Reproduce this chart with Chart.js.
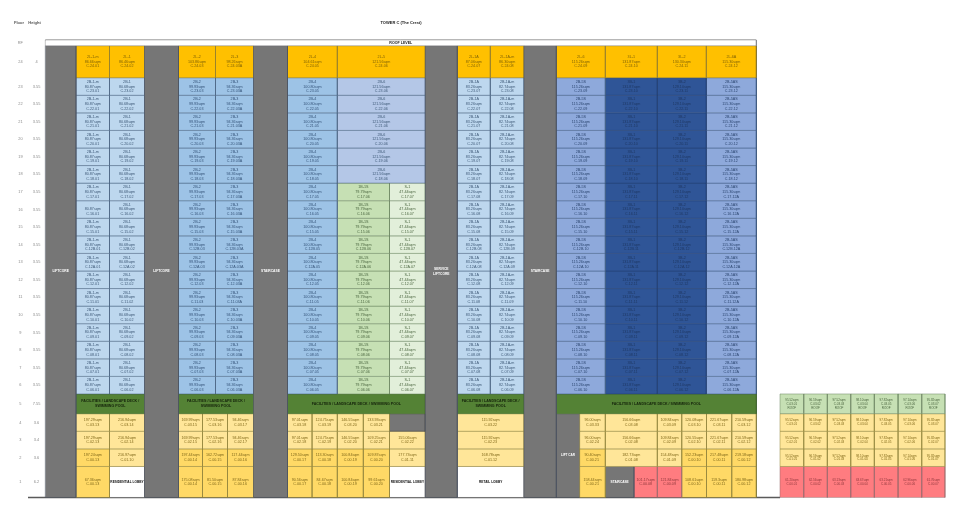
<!DOCTYPE html>
<html>
<head>
<meta charset="utf-8">
<style>
  html, body { margin: 0; padding: 0; background: #fff; }
  canvas { display: block; }
</style>
<script src="https://cdn.jsdelivr.net/npm/chart.js@4"></script>
</head>
<body>
<canvas id="myChart" width="968" height="510"></canvas>
<script>
// floor axis
const floors = ['RF', 24, 23, 22, 21, 20, 19, 18, 17, 16, 15, 14, 13, 12, 11, 10, 9, 8, 7, 6, 5, 4, 3, 2, 1];
const heights = ['', '4', '3.55', '3.55', '3.55', '3.55', '3.55', '3.55', '3.55', '3.55', '3.55', '3.55', '3.55', '3.55', '3.55', '3.55', '3.55', '3.55', '3.55', '3.55', '7.55', '3.6', '3.4', '3.6', '6.2'];

// tower floors (23 to 6), code part per floor
const towerFloors = [23, 22, 21, 20, 19, 18, 17, 16, 15, 14, 13, 12, 11, 10, 9, 8, 7, 6];
const towerCodes = ['23', '22', '21', '20', '19', '18', '17', '16', '15', '12B', '12A', '12', '11', '10', '09', '08', '07', '06'];

// penthouse floor 24
const roofNames = ['2L-1-m', '2L-1', '2L-2', '2L-3', '2L-4', '2L-5', '2L-1A', '2L-1A-m', '2L-6', '3L-1', '3L-2', '2L-6A'];
const roofAreas = ['86.66sqm', '86.46sqm', '103.86sqm', '98.26sqm', '104.61sqm', '121.56sqm', '87.06sqm', '86.30sqm', '115.26sqm', '131.87sqm', '130.30sqm', '115.30sqm'];
const roofCodes = ['C.24.01', 'C.24.02', 'C.24.03', 'C.24.03A', 'C.24.05', 'C.24.06', 'C.24.07', 'C.24.08', 'C.24.09', 'C.24.10', 'C.24.11', 'C.24.12'];

// typical units, upper stack (floors 23 to 18)
const unitNames = ['2B-1-m', '2B-1', '2B-2', '2B-3', '2B-4', '2B-6', '2B-1A', '2B-1A-m', '2B-5S', '3B-1', '3B-2', '2B-5AS'];
const unitAreas = ['80.87sqm', '80.68sqm', '99.93sqm', '94.36sqm', '100.80sqm', '121.56sqm', '83.26sqm', '82.74sqm', '115.26sqm', '131.87sqm', '129.10sqm', '115.30sqm'];
const upperSuffix = ['01', '02', '03', '03A', '05', '06', '07', '08', '09', '10', '11', '12'];
const lowerSuffix = ['01', '02', '03', '03A', '05', '06', '08', '09', '10', '11', '12', '12A'];

// the split unit that replaces 2B-6 from floor 17 down
const splitNames = ['1B-1S', 'S-1'];
const splitAreas = ['79.79sqm', '47.44sqm'];
const splitSuffix = ['06', '07'];

// podium floors
const floor4Areas = ['197.29sqm', '216.94sqm', '169.99sqm', '177.53sqm', '94.46sqm', '97.01sqm', '124.75sqm', '146.55sqm', '133.93sqm', '', '115.92sqm', '96.00sqm', '156.66sqm', '109.84sqm', '120.08sqm', '221.67sqm', '210.59sqm'];
const floor4Codes = ['C.03.13', 'C.03.14', 'C.03.15', 'C.03.16', 'C.03.17', 'C.03.18', 'C.03.19', 'C.03.20', 'C.03.21', '', 'C.03.22', 'C.03.33', 'C.03.08', 'C.03.09', 'C.03.10', 'C.03.11', 'C.03.12'];
const floor3Areas = ['197.29sqm', '216.94sqm', '169.99sqm', '177.53sqm', '94.46sqm', '97.01sqm', '124.75sqm', '146.55sqm', '109.25sqm', '155.06sqm', '115.92sqm', '96.00sqm', '156.66sqm', '109.84sqm', '120.55sqm', '221.67sqm', '210.59sqm'];
const floor3Codes = ['C.02.13', 'C.02.14', 'C.02.15', 'C.02.16', 'C.02.17', 'C.02.18', 'C.02.19', 'C.02.20', 'C.02.21', 'C.02.22', 'C.02.23', 'C.02.24', 'C.02.08', 'C.02.09', 'C.02.10', 'C.02.11', 'C.02.12'];
const floor2Areas = ['197.24sqm', '216.97sqm', '197.44sqm', '162.72sqm', '117.44sqm', '129.50sqm', '113.30sqm', '100.84sqm', '109.87sqm', '177.73sqm', '168.78sqm', '90.40sqm', '182.73sqm', '154.48sqm', '152.23sqm', '217.48sqm', '219.18sqm'];
const floor2Codes = ['C.00.13', 'C.01.10', 'C.00.14', 'C.00.15', 'C.00.16', 'C.00.17', 'C.00.18', 'C.00.19', 'C.00.20', 'C.01.11', 'C.01.12', 'C.00.21', 'C.01.08', 'C.01.09', 'C.00.10', 'C.00.11', 'C.00.12'];
const floor1Labels = ['67.36sqm', 'RESIDENTIAL LOBBY', '175.08sqm', '81.50sqm', '87.84sqm', '90.56sqm', '84.67sqm', '100.84sqm', '99.61sqm', 'RESIDENTIAL LOBBY', 'RETAIL LOBBY', '158.44sqm', 'STAIRCASE', '101.17sqm', '121.84sqm', '108.61sqm', '119.3sqm', '180.98sqm'];
const floor1Codes = ['C.00.13', '', 'C.00.14', 'C.00.15', 'C.00.16', 'C.00.17', 'C.00.18', 'C.00.19', 'C.00.20', '', '', 'C.00.21', '', 'C.00.08', 'C.00.09', 'C.00.10', 'C.00.11', 'C.00.12'];

// detached block on the right
const sideAreas = ['95.52sqm', '96.59sqm', '97.52sqm', '98.10sqm', '97.82sqm', '97.14sqm', '95.82sqm'];
const sideLowAreas = ['61.20sqm', '62.56sqm', '63.13sqm', '63.67sqm', '63.21sqm', '62.96sqm', '61.76sqm'];
const sideSuffix = ['01', '02', '03', '04', '05', '06', '07'];
const sideFloorCodes = { 5: '03', 4: '03', 3: '02', 2: '01', 1: '00' };

const facilityLong = 'FACILITIES / LANDSCAPE DECK / SWIMMING POOL';
const facilityLines = ['FACILITIES / LANDSCAPE DECK /', 'SWIMMING POOL'];

// ---- layout (scale units, both axes) ----
const rowSizes = [5.7, 32, 17.57, 17.57, 17.57, 17.57, 17.57, 17.57, 17.57, 17.57, 17.57, 17.57, 17.57, 17.57, 17.57, 17.57, 17.57, 17.57, 17.57, 17.57, 19.7, 17.6, 17.6, 17.6, 31];
const yStart = 40;
const rowEdges = [yStart];
rowSizes.forEach(s => rowEdges.push(rowEdges[rowEdges.length - 1] + s));
const yEnd = rowEdges[rowEdges.length - 1];
const rowCenters = rowSizes.map((s, i) => rowEdges[i] + s / 2);
const xStart = 45.3, xEnd = 945, tableEnd = 756.3;

const unitCols = [[76, 109.5], [109.5, 144.5], [178.5, 215.5], [215.5, 253.5], [287.5, 337.3], [337.3, 425.3], [457.3, 490.3], [490.3, 524], [556.3, 605.3], [605.3, 657.3], [657.3, 706.3], [706.3, 756.3]];
const splitCols = [[337.3, 389.5], [389.5, 425.3]];
const coreCols = [[45.3, 76], [144.5, 178.5], [253.5, 287.5], [425.3, 457.3], [524, 556.3]];
const coreLabels = [['LIFTCORE'], ['LIFTCORE'], ['STAIRCASE'], ['SERVICE', 'LIFTCORE'], ['STAIRCASE']];
const facilityCols = [[76, 144.5], [178.5, 253.5], [287.5, 425.3], [457.3, 524], [556.3, 756.3]];
const podiumCols = [[76, 109.5], [109.5, 144.5], [178.5, 202.5], [202.5, 227.5], [227.5, 253.5], [287.5, 312], [312, 337.3], [337.3, 363.3], [363.3, 389.5], [389.5, 425.3], [457.3, 524], [579.7, 605.3], [605.3, 657.3], [657.3, 681.7], [681.7, 706.5], [706.5, 731.7], [731.7, 756.3]];
const floor1Cols = [[76, 109.5], [109.5, 144.5], [178.5, 202.5], [202.5, 227.5], [227.5, 253.5], [287.5, 312], [312, 337.3], [337.3, 363.3], [363.3, 389.5], [389.5, 425.3], [457.3, 524], [579.7, 605.3], [605.3, 634], [634, 657.3], [657.3, 681.7], [681.7, 706.5], [706.5, 731.7], [731.7, 756.3]];
const sideEdges = [780, 803.7, 827.3, 850.7, 874.3, 898, 921.7, 945];

const tones = {
  band: { fill: '#ffffff', line: '#8a8a8a', text: '#222222', bold: true },
  core: { fill: '#767676', line: '#4a5360', text: '#ffffff', bold: true },
  roof: { fill: '#FFC000', line: '#8f7a2c', text: '#7f6206' },
  blue1: { fill: '#BDD7EE', line: '#46617f', text: '#3f5a78' },
  blue2: { fill: '#9DC3E6', line: '#46617f', text: '#36557a' },
  lav: { fill: '#B4C7E7', line: '#46617f', text: '#3f5a78' },
  blue3: { fill: '#8EA9DB', line: '#3f5a80', text: '#2c4670' },
  navy: { fill: '#2F5597', line: '#223f70', text: '#1f3864' },
  green: { fill: '#C6E0B4', line: '#6a8560', text: '#4c6741' },
  mint: { fill: '#E2EFDA', line: '#6a8560', text: '#4c6741' },
  fac: { fill: '#548235', line: '#466c2c', text: '#15240b', bold: true },
  pale: { fill: '#FFE699', line: '#8f8038', text: '#80691a' },
  strong: { fill: '#FFD966', line: '#8f8038', text: '#80691a' },
  red: { fill: '#FF7C80', line: '#96686a', text: '#8f383c' },
  white: { fill: '#ffffff', line: '#666666', text: '#111111', bold: true },
  cross: { fill: '#767676', line: '#3a3a3a', text: '#ffffff' },
};
const unitTones = ['blue1', 'blue1', 'blue2', 'blue2', 'blue2', 'lav', 'blue1', 'blue1', 'blue3', 'navy', 'navy', 'blue3'];
const floor4Tones = ['pale', 'pale', 'pale', 'pale', 'pale', 'pale', 'pale', 'pale', 'pale', 'cross', 'pale', 'pale', 'pale', 'pale', 'pale', 'pale', 'pale'];
const floor3Tones = floor4Tones.map(() => 'pale');
const floor2Tones = ['strong', 'pale', 'strong', 'strong', 'strong', 'strong', 'strong', 'strong', 'strong', 'pale', 'pale', 'strong', 'pale', 'pale', 'strong', 'strong', 'strong'];
const floor1Tones = ['strong', 'white', 'strong', 'strong', 'strong', 'strong', 'strong', 'strong', 'strong', 'white', 'white', 'strong', 'core', 'red', 'red', 'strong', 'strong', 'strong'];

const datasets = [];

function addCell(x0, x1, y0, y1, toneName, lines, size) {
  const t = tones[toneName];
  datasets.push({
    data: [{ x: x0, y: y0 }, { x: x1, y: y0 }, { x: x1, y: y1 }, { x: x0, y: y1 }, { x: x0, y: y0 }],
    showLine: true,
    fill: 'shape',
    backgroundColor: t.fill,
    borderColor: t.line,
    borderWidth: 0.5,
    borderJoinStyle: 'miter',
    pointRadius: 0,
    clip: false,
    cellText: lines,
    textColor: t.text,
    textBold: !!t.bold,
    textSize: size || 3.7,
  });
}

function addRule(points, color, width) {
  datasets.push({ data: points, showLine: true, fill: false, borderColor: color, borderWidth: width, pointRadius: 0, clip: false });
}

function rowOf(floor) {
  return floors.indexOf(floor);
}

function addFloorCell(col, floor, toneName, lines, size) {
  const r = rowOf(floor);
  addCell(col[0], col[1], rowEdges[r], rowEdges[r + 1], toneName, lines, size);
}

// roof band and grey cores
addCell(xStart, tableEnd, rowEdges[0], rowEdges[1], 'band', ['ROOF LEVEL'], 3.6);
coreCols.forEach((c, i) => addCell(c[0], c[1], rowEdges[1], yEnd, 'core', coreLabels[i], 3.3));

// floor 24
unitCols.forEach((c, i) => addFloorCell(c, 24, 'roof', [roofNames[i], roofAreas[i], roofCodes[i]]));

// floors 23 to 6
towerFloors.forEach((floor, f) => {
  const code = towerCodes[f];
  const isLower = floor <= 17;
  const suffix = isLower ? lowerSuffix : upperSuffix;
  unitCols.forEach((c, i) => {
    if (isLower && i === 5) return;
    // the name is missing on this one cell in the reference
    const name = (floor === 16 && i === 0) ? '' : unitNames[i];
    addFloorCell(c, floor, unitTones[i], [name, unitAreas[i], 'C.' + code + '.' + suffix[i]]);
  });
  if (isLower) {
    addFloorCell(splitCols[0], floor, 'green', [splitNames[0], splitAreas[0], 'C.' + code + '.' + splitSuffix[0]]);
    addFloorCell(splitCols[1], floor, 'mint', [splitNames[1], splitAreas[1], 'C.' + code + '.' + splitSuffix[1]]);
  }
});

// darker seam between floors 15 and 14
addRule([{ x: 76, y: rowEdges[rowOf(14)] }, { x: tableEnd, y: rowEdges[rowOf(14)] }], 'rgba(70,80,100,0.3)', 1.2);

// floor 5 facilities
facilityCols.forEach((c, i) => {
  const wide = i === 2 || i === 4;
  addFloorCell(c, 5, 'fac', wide ? [facilityLong] : facilityLines, 3.6);
});

// podium floors 4 to 1
podiumCols.forEach((c, i) => addFloorCell(c, 4, floor4Tones[i], floor4Areas[i] ? [floor4Areas[i], floor4Codes[i]] : []));
podiumCols.forEach((c, i) => addFloorCell(c, 3, floor3Tones[i], [floor3Areas[i], floor3Codes[i]]));
podiumCols.forEach((c, i) => addFloorCell(c, 2, floor2Tones[i], [floor2Areas[i], floor2Codes[i]]));
floor1Cols.forEach((c, i) => {
  const tagged = floor1Codes[i] !== '';
  addFloorCell(c, 1, floor1Tones[i], tagged ? [floor1Labels[i], floor1Codes[i]] : [floor1Labels[i]], tagged ? 3.7 : 3.2);
});

// crossed out void on floor 4
const xc = podiumCols[9];
addRule([{ x: xc[0], y: rowEdges[rowOf(4)] }, { x: xc[1], y: rowEdges[rowOf(4) + 1] }], '#3a3a3a', 0.6);
addRule([{ x: xc[0], y: rowEdges[rowOf(4) + 1] }, { x: xc[1], y: rowEdges[rowOf(4)] }], '#3a3a3a', 0.6);

// lift car
addCell(556.3, 579.7, rowEdges[rowOf(4)], yEnd, 'core', ['LIFT CAR'], 3.1);

// side block
[5, 4, 3, 2, 1].forEach(floor => {
  sideAreas.forEach((area, i) => {
    const col = [sideEdges[i], sideEdges[i + 1]];
    const code = 'C.' + sideFloorCodes[floor] + '.' + sideSuffix[i];
    if (floor === 5) addFloorCell(col, floor, 'green', [area, code, 'ROOF'], 3);
    else if (floor === 1) addFloorCell(col, floor, 'red', [sideLowAreas[i], code], 3);
    else addFloorCell(col, floor, 'pale', [area, code], 3);
  });
});

// ground line, table frame
addRule([{ x: 28, y: yEnd }, { x: 780, y: yEnd }], '#5a5a5a', 1.4);
addRule([{ x: xStart, y: yStart }, { x: tableEnd, y: yStart }], '#8a8a8a', 1);
addRule([{ x: tableEnd, y: yStart }, { x: tableEnd, y: yEnd }], '#2a3c5c', 0.8);
coreCols.slice(1).forEach(c => {
  addRule([{ x: c[0], y: rowEdges[1] }, { x: c[0], y: yEnd }], '#2a3c5c', 0.7);
  addRule([{ x: c[1], y: rowEdges[1] }, { x: c[1], y: yEnd }], '#2a3c5c', 0.7);
});

const fontFamily = '"Liberation Sans", sans-serif';

const cellText = {
  id: 'cellText',
  afterDatasetsDraw(chart) {
    const { ctx, scales: { x, y } } = chart;
    ctx.save();
    ctx.textAlign = 'center';
    ctx.textBaseline = 'middle';
    chart.data.datasets.forEach(ds => {
      if (!ds.cellText || !ds.cellText.length) return;
      const cx = x.getPixelForValue((ds.data[0].x + ds.data[1].x) / 2);
      const cy = y.getPixelForValue((ds.data[0].y + ds.data[2].y) / 2);
      const gap = ds.textSize <= 3 ? 3.9 : 4.7;
      ctx.fillStyle = ds.textColor;
      ctx.font = (ds.textBold ? 'bold ' : '') + ds.textSize + 'px ' + fontFamily;
      ds.cellText.forEach((line, i) => {
        ctx.fillText(line, cx, cy + (i - (ds.cellText.length - 1) / 2) * gap);
      });
    });
    // page headings
    ctx.font = 'bold 4px ' + fontFamily;
    ctx.fillStyle = '#222222';
    ctx.fillText('TOWER C (The Crest)', x.getPixelForValue(401), 22.5);
    ctx.fillStyle = '#555555';
    ctx.fillText('Floor', 19, 22.5);
    ctx.fillText('Height', 34.5, 22.5);
    ctx.restore();
  },
};

function sideAxis(labels, boxWidth, pad, weight) {
  return {
    type: 'linear',
    position: 'left',
    reverse: true,
    min: yStart,
    max: yEnd,
    weight: weight,
    grid: { display: false, drawTicks: false },
    border: { display: false },
    ticks: {
      autoSkip: false,
      padding: pad,
      crossAlign: 'center',
      color: '#8a8a8a',
      font: { size: 3.9, family: fontFamily },
      callback: (value, index) => labels[index],
    },
    afterBuildTicks: scale => {
      scale.ticks = rowCenters.map(v => ({ value: v }));
    },
    afterFit: scale => {
      scale.width = boxWidth;
    },
  };
}

new Chart(document.getElementById('myChart'), {
  type: 'scatter',
  data: { datasets },
  options: {
    responsive: false,
    animation: false,
    events: [],
    layout: { padding: { top: yStart, bottom: 510 - yEnd, right: 968 - xEnd, left: 0 } },
    plugins: { legend: { display: false }, tooltip: { enabled: false } },
    scales: {
      x: { type: 'linear', display: false, min: xStart, max: xEnd },
      y: sideAxis(floors, 28, 5, 2),
      yHeight: sideAxis(heights, 17.3, 5, 1),
    },
  },
  plugins: [cellText],
});
</script>
</body>
</html>
